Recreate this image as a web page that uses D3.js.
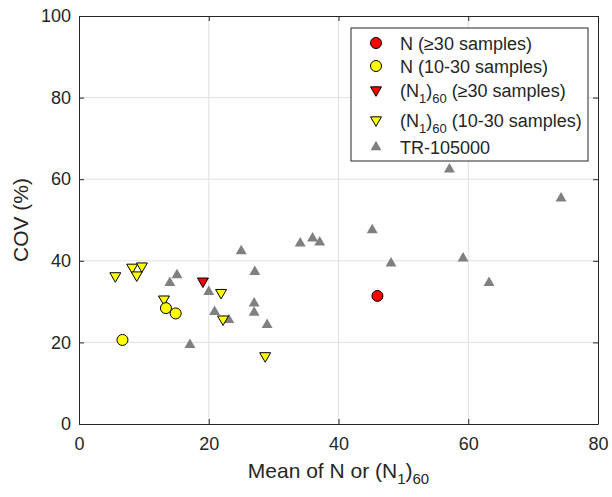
<!DOCTYPE html>
<html>
<head>
<meta charset="utf-8">
<script src="https://cdn.jsdelivr.net/npm/d3@7"></script>
<style>
  body { margin: 0; background: #fff; }
  text { font-family: "Liberation Sans", Arial, sans-serif; fill: #262626; }
</style>
</head>
<body>
<div id="chart"></div>
<script>
// data
var nHigh = [[46.0, 31.4]];
var nLow = [[6.7, 20.6], [13.4, 28.4], [14.9, 27.1]];
var n160High = [[19.1, 35.0]];
var n160Low = [[5.6, 36.3], [8.2, 38.4], [8.9, 36.5], [9.7, 38.7], [13.1, 30.6],
               [21.9, 32.2], [22.2, 25.7], [28.7, 16.7]];
var tr105000 = [[14.0, 34.6], [15.1, 36.5], [17.1, 19.4], [20.0, 32.4], [20.9, 27.5],
                [23.1, 25.5], [25.0, 42.4], [27.1, 37.3], [27.0, 29.6], [27.0, 27.3],
                [29.0, 24.3], [34.1, 44.3], [36.0, 45.5], [37.1, 44.5], [45.2, 47.5],
                [48.1, 39.4], [57.1, 62.4], [59.2, 40.6], [63.2, 34.6], [74.3, 55.3]];
var xTicks = [0, 20, 40, 60, 80];
var yTicks = [0, 20, 40, 60, 80, 100];

var W = 612, H = 497;
var margin = {top: 16, right: 14, bottom: 73, left: 79};
var width = W - margin.left - margin.right,
    height = H - margin.top - margin.bottom;

var x = d3.scaleLinear().domain([0, 80]).range([0, width]);
var y = d3.scaleLinear().domain([0, 100]).range([height, 0]);

var svg = d3.select("#chart").append("svg")
    .attr("width", W).attr("height", H)
  .append("g")
    .attr("transform", "translate(" + margin.left + "," + margin.top + ")");

// grid
svg.selectAll(".gx").data(xTicks.slice(1, -1)).enter().append("line")
    .attr("x1", d => x(d)).attr("x2", d => x(d))
    .attr("y1", 0).attr("y2", height)
    .style("stroke", "#e0e0e0").style("stroke-width", 1);
svg.selectAll(".gy").data(yTicks.slice(1, -1)).enter().append("line")
    .attr("y1", d => y(d)).attr("y2", d => y(d))
    .attr("x1", 0).attr("x2", width)
    .style("stroke", "#e0e0e0").style("stroke-width", 1);

// axes, ticks pointing inward like matlab
var xAxis = d3.axisBottom(x).tickValues(xTicks).tickSizeInner(-5).tickSizeOuter(0).tickPadding(13);
var yAxis = d3.axisLeft(y).tickValues(yTicks).tickSizeInner(-5).tickSizeOuter(0).tickPadding(8);

svg.append("g").attr("transform", "translate(0," + height + ")").call(xAxis);
svg.append("g").call(yAxis);
svg.append("g").call(d3.axisTop(x).tickValues(xTicks).tickSizeInner(-5).tickSizeOuter(0).tickFormat(""));
svg.append("g").attr("transform", "translate(" + width + ",0)")
    .call(d3.axisRight(y).tickValues(yTicks).tickSizeInner(-5).tickSizeOuter(0).tickFormat(""));

svg.selectAll(".domain, .tick line").style("stroke", "#262626");
svg.selectAll(".tick text").style("font-size", "18px").style("fill", "#262626")
    .style("font-family", "Liberation Sans, Arial, sans-serif");

// markers
var tri = d3.symbol().type(d3.symbolTriangle).size(52);

svg.selectAll(".tr").data(tr105000).enter().append("path")
    .attr("d", tri())
    .attr("transform", d => "translate(" + x(d[0]) + "," + y(d[1]) + ")")
    .style("fill", "#808080");

function downTris(data, color) {
  svg.selectAll(null).data(data).enter().append("path")
      .attr("d", tri())
      .attr("transform", d => "translate(" + x(d[0]) + "," + y(d[1]) + ") rotate(180)")
      .style("fill", color).style("stroke", "#000").style("stroke-width", 1);
}
function circles(data, color) {
  svg.selectAll(null).data(data).enter().append("circle")
      .attr("cx", d => x(d[0])).attr("cy", d => y(d[1])).attr("r", 5.5)
      .style("fill", color).style("stroke", "#000").style("stroke-width", 1);
}
downTris(n160Low, "#ffff00");
downTris(n160High, "#ff0000");
circles(nLow, "#ffff00");
circles(nHigh, "#ff0000");

// axis labels
var xl = svg.append("text")
    .attr("x", width / 2).attr("y", height + 54)
    .style("text-anchor", "middle").style("font-size", "21px");
xl.append("tspan").text("Mean of N or (N");
xl.append("tspan").attr("dy", 6).style("font-size", "15px").text("1");
xl.append("tspan").attr("dy", -6).text(")");
xl.append("tspan").attr("dy", 6).style("font-size", "15px").text("60");

svg.append("text")
    .attr("transform", "translate(-51," + (height / 2) + ") rotate(-90)")
    .style("text-anchor", "middle").style("font-size", "21px")
    .text("COV (%)");

// legend
var legend = svg.append("g").attr("transform", "translate(" + (351 - margin.left) + "," + (28 - margin.top) + ")");
legend.append("rect").attr("width", 237).attr("height", 133)
    .style("fill", "#fff").style("stroke", "#262626").style("stroke-width", 1);

var legendRows = [
  {kind: "circle", color: "#ff0000", y: 15, parts: [["N (\u226530 samples)", 0]]},
  {kind: "circle", color: "#ffff00", y: 38, parts: [["N (10-30 samples)", 0]]},
  {kind: "down", color: "#ff0000", y: 62, parts: [["(N", 0], ["1", 1], [")", 0], ["60", 1], [" (\u226530 samples)", 0]]},
  {kind: "down", color: "#ffff00", y: 92, parts: [["(N", 0], ["1", 1], [")", 0], ["60", 1], [" (10-30 samples)", 0]]},
  {kind: "up", color: "#808080", y: 119, parts: [["TR-105000", 0]]}
];

legendRows.forEach(function(r) {
  if (r.kind === "circle") {
    legend.append("circle").attr("cx", 25).attr("cy", r.y).attr("r", 5.5)
        .style("fill", r.color).style("stroke", "#000");
  } else if (r.kind === "down") {
    legend.append("path").attr("d", tri())
        .attr("transform", "translate(25," + r.y + ") rotate(180)")
        .style("fill", r.color).style("stroke", "#000");
  } else {
    legend.append("path").attr("d", tri())
        .attr("transform", "translate(25," + r.y + ")")
        .style("fill", r.color);
  }
  var t = legend.append("text").attr("x", 49).attr("y", r.y + 7).style("font-size", "18px");
  var sub = 0;
  r.parts.forEach(function(p) {
    var dy = 0;
    if (p[1] && !sub) { dy = 6; sub = 1; }
    else if (!p[1] && sub) { dy = -6; sub = 0; }
    var s = t.append("tspan").attr("dy", dy).text(p[0]);
    if (p[1]) s.style("font-size", "13px");
  });
});
</script>
</body>
</html>
